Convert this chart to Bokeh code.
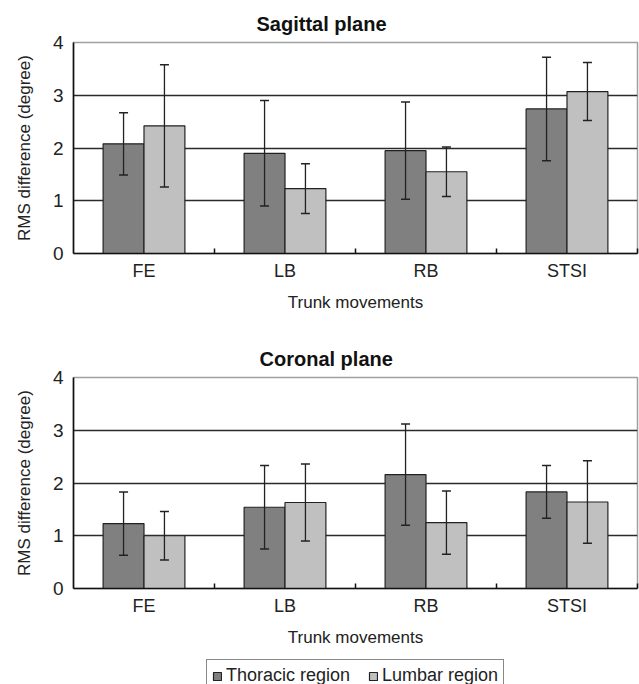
from bokeh.plotting import figure
from bokeh.models import (ColumnDataSource, Whisker, TeeHead, FixedTicker,
                          Legend, LegendItem)
from bokeh.layouts import column
from bokeh.embed import file_html
from bokeh.resources import INLINE

# ---- data ----
categories = ["FE", "LB", "RB", "STSI"]
series_names = ["Thoracic region", "Lumbar region"]

sag_thoracic = [2.08, 1.90, 1.95, 2.74]
sag_thoracic_sd = [0.59, 1.00, 0.92, 0.98]
sag_lumbar = [2.42, 1.23, 1.55, 3.07]
sag_lumbar_sd = [1.16, 0.47, 0.47, 0.55]

cor_thoracic = [1.23, 1.54, 2.16, 1.83]
cor_thoracic_sd = [0.60, 0.79, 0.96, 0.50]
cor_lumbar = [1.00, 1.63, 1.25, 1.64]
cor_lumbar_sd = [0.46, 0.73, 0.60, 0.78]

y_ticks = [0, 1, 2, 3, 4]

FONT = "Liberation Sans"
DARK = "#808080"
LIGHT = "#c0c0c0"
EDGE = "#222222"
BAR_W = 0.29


def make_chart(title, title_offset, thor, thor_sd, lumb, lumb_sd, height, top, bottom):
    p = figure(width=639, height=height, x_range=(0, 4), y_range=(0, 4),
               output_backend="svg", toolbar_location=None,
               min_border_left=73, min_border_right=2,
               min_border_top=top, min_border_bottom=bottom,
               background_fill_color="white", border_fill_color="white")
    p.outline_line_color = "#a0a0a0"
    p.outline_line_width = 1.5

    p.title.text = title
    p.title.align = "left"
    p.title.offset = title_offset
    p.title.standoff = 15
    p.title.text_font = FONT
    p.title.text_font_size = "20px"
    p.title.text_font_style = "bold"
    p.title.text_color = "#111111"

    for vals, sds, off, col in ((thor, thor_sd, -BAR_W / 2, DARK),
                                (lumb, lumb_sd, BAR_W / 2, LIGHT)):
        xs = [i + 0.5 + off for i in range(len(categories))]
        src = ColumnDataSource(dict(
            x=xs, top=vals,
            upper=[v + s for v, s in zip(vals, sds)],
            lower=[v - s for v, s in zip(vals, sds)]))
        p.vbar(x="x", top="top", bottom=0, width=BAR_W, source=src,
               fill_color=col, line_color=EDGE, line_width=1.2)
        w = Whisker(base="x", upper="upper", lower="lower", source=src,
                    level="overlay",
                    line_color="#222222", line_width=1.3,
                    upper_head=TeeHead(size=9, line_color="#222222", line_width=1.5),
                    lower_head=TeeHead(size=9, line_color="#222222", line_width=1.5))
        p.add_layout(w)

    # grid
    p.xgrid.visible = False
    p.ygrid.ticker = FixedTicker(ticks=[1, 2, 3])
    p.ygrid.grid_line_color = "#2a2a2a"
    p.ygrid.grid_line_width = 1.6

    # x axis
    xa = p.xaxis[0]
    xa.ticker = FixedTicker(ticks=[i + 0.5 for i in range(len(categories))],
                            minor_ticks=list(range(1, len(categories) + 1)))
    xa.major_label_overrides = {i + 0.5: c for i, c in enumerate(categories)}
    xa.major_tick_in = 0
    xa.major_tick_out = 0
    xa.minor_tick_in = 5
    xa.minor_tick_out = 0
    xa.minor_tick_line_color = "#111111"
    xa.minor_tick_line_width = 1.5
    xa.axis_line_color = "#111111"
    xa.axis_line_width = 1.6
    xa.major_label_text_font = FONT
    xa.major_label_text_font_size = "18px"
    xa.major_label_text_color = "#222222"
    xa.major_label_standoff = 7
    xa.axis_label = "Trunk movements"
    xa.axis_label_text_font = FONT
    xa.axis_label_text_font_size = "17px"
    xa.axis_label_text_font_style = "normal"
    xa.axis_label_text_color = "#222222"
    xa.axis_label_standoff = 9

    # y axis
    ya = p.yaxis[0]
    ya.ticker = FixedTicker(ticks=y_ticks)
    ya.major_tick_in = 0
    ya.major_tick_out = 0
    ya.minor_tick_in = 0
    ya.minor_tick_out = 0
    ya.axis_line_color = "#111111"
    ya.axis_line_width = 1.6
    ya.major_label_text_font = FONT
    ya.major_label_text_font_size = "19px"
    ya.major_label_text_color = "#222222"
    ya.major_label_standoff = 10
    ya.axis_label = "RMS difference (degree)"
    ya.axis_label_text_font = FONT
    ya.axis_label_text_font_size = "17px"
    ya.axis_label_text_font_style = "normal"
    ya.axis_label_text_color = "#222222"
    ya.axis_label_standoff = 16
    return p


p1 = make_chart("Sagittal plane", 183, sag_thoracic, sag_thoracic_sd,
                sag_lumbar, sag_lumbar_sd, 330, 42, 77)
p2 = make_chart("Coronal plane", 186, cor_thoracic, cor_thoracic_sd,
                cor_lumbar, cor_lumbar_sd, 320, 47, 62)

# legend strip: its proxy glyph is tiny and hidden beneath the legend box
p3 = figure(width=639, height=34, x_range=(0, 1), y_range=(0, 1),
            output_backend="svg", toolbar_location=None,
            x_axis_type=None, y_axis_type=None,
            min_border=0, min_border_left=0, min_border_right=0,
            min_border_top=0, min_border_bottom=0,
            background_fill_color="white", border_fill_color="white")
p3.outline_line_color = None
p3.grid.visible = False
leg_src = ColumnDataSource(dict(x=[0.5], top=[0.2]))
r_dark = p3.vbar(x="x", top="top", bottom=0, width=0.01, source=leg_src,
                 fill_color=DARK, line_color=EDGE, line_width=1.2)
r_light = p3.vbar(x="x", top="top", bottom=0, width=0.01, source=leg_src,
                  fill_color=LIGHT, line_color=EDGE, line_width=1.2)
legend = Legend(items=[LegendItem(label=series_names[0], renderers=[r_dark]),
                       LegendItem(label=series_names[1], renderers=[r_light])],
                orientation="horizontal", location=(133, -8),
                glyph_width=10, glyph_height=10, label_standoff=4,
                spacing=18, padding=5, margin=0,
                label_text_font=FONT, label_text_font_size="18px",
                label_text_color="#222222",
                border_line_color="#111111", border_line_width=1.5,
                background_fill_color="white", background_fill_alpha=1)
p3.add_layout(legend)

layout = column(p1, p2, p3, spacing=0)
open("out.html", "w").write(file_html(layout, INLINE))
